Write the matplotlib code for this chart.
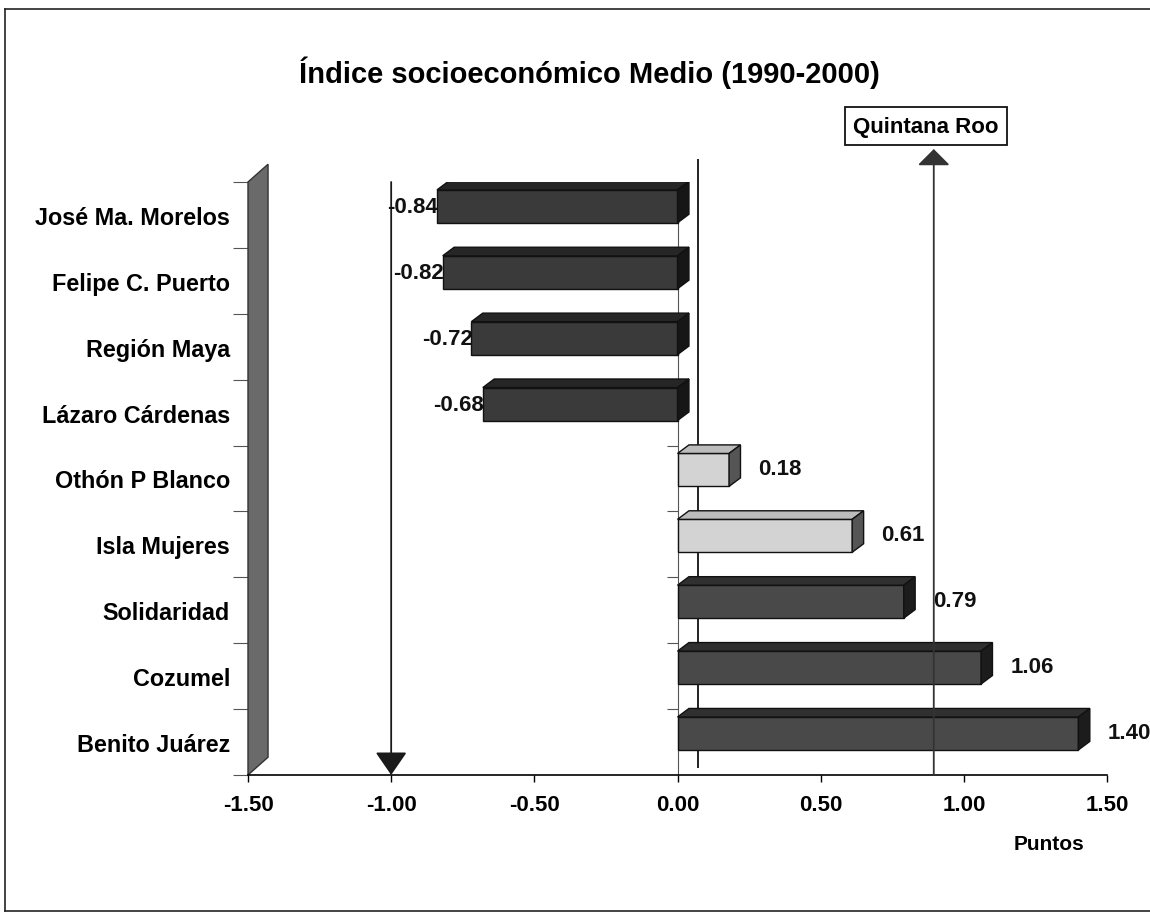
import matplotlib
matplotlib.use("Agg")
import matplotlib.pyplot as plt
import numpy as np
from matplotlib.patches import Polygon
from matplotlib.lines import Line2D

# data
municipios = ["José Ma. Morelos", "Felipe C. Puerto", "Región Maya", "Lázaro Cárdenas",
              "Othón P Blanco", "Isla Mujeres", "Solidaridad", "Cozumel", "Benito Juárez"]
indice = [-0.84, -0.82, -0.72, -0.68, 0.18, 0.61, 0.79, 1.06, 1.40]
tono = ["neg", "neg", "neg", "neg", "light", "light", "dark", "dark", "dark"]
quintana_roo = 0.895
ref_linea = -1.00
x_ticks = [-1.50, -1.00, -0.50, 0.00, 0.50, 1.00, 1.50]

# front, top, side colours
COLORS = {
    "neg":   ("#3a3a3a", "#262626", "#161616"),
    "dark":  ("#494949", "#303030", "#1c1c1c"),
    "light": ("#d3d3d3", "#bcbcbc", "#555555"),
}

plt.rcParams["font.family"] = ["Liberation Sans", "DejaVu Sans"]
plt.rcParams["font.weight"] = "bold"

fig = plt.figure(figsize=(11.5, 9.2), dpi=100)
ax = fig.add_axes([248 / 1150, 144 / 920, 859 / 1150, 593 / 920])
ax.set_xlim(-1.5, 1.5)
ax.set_ylim(len(municipios) - 0.5, -0.5)

DX, DY = 0.04, 0.13   # 3D depth
H = 0.50              # front face height
SHIFT = 0.13          # front face sits a bit above slot centre

for i, (v, t) in enumerate(zip(indice, tono)):
    front, top, side = COLORS[t]
    x0, x1 = min(0, v), max(0, v)
    yc = i - SHIFT
    yt, yb = yc - H / 2, yc + H / 2
    ax.add_patch(Polygon([(x0, yb), (x1, yb), (x1, yt), (x0, yt)], closed=True,
                         facecolor=front, edgecolor="#111", lw=1.0, zorder=3))
    ax.add_patch(Polygon([(x0, yt), (x0 + DX, yt - DY), (x1 + DX, yt - DY), (x1, yt)],
                         closed=True, facecolor=top, edgecolor="#111", lw=1.0, zorder=3))
    ax.add_patch(Polygon([(x1, yb), (x1 + DX, yb - DY), (x1 + DX, yt - DY), (x1, yt)],
                         closed=True, facecolor=side, edgecolor="#111", lw=1.0, zorder=3))
    if v < 0:
        ax.annotate(f"{v:.2f}", (v, yc), xytext=(1, 0), textcoords="offset points",
                    ha="right", va="center", fontsize=16, fontweight="bold", color="#111",
                    zorder=4)
    else:
        ax.annotate(f"{v:.2f}", (v, yc), xytext=(21, 1), textcoords="offset points",
                    ha="left", va="center", fontsize=16, fontweight="bold", color="#111",
                    zorder=4)

# left wall
n = len(municipios)
ax.add_patch(Polygon([(-1.5, -0.5), (-1.43, -0.77), (-1.43, n - 0.77), (-1.5, n - 0.5)],
                     closed=True, facecolor="#6a6a6a", edgecolor="#333", lw=1.0,
                     clip_on=False, zorder=2))

# category axis at zero and back-wall line
ax.vlines(0, -0.5, n - 0.5, color="#555", lw=0.8, zorder=1)
ax.hlines(np.arange(n + 1) - 0.5, -0.035, 0, color="#555", lw=0.8, zorder=1)
ax.vlines(0.07, -0.85, n - 0.6, color="#222", lw=1.4, zorder=1, clip_on=False)

# reference arrows
ax.annotate("", xy=(ref_linea, n - 0.5), xytext=(ref_linea, -0.5),
            arrowprops=dict(arrowstyle="-|>,head_length=0.48,head_width=0.33",
                            mutation_scale=30, color="#1a1a1a", lw=1.3,
                            shrinkA=0, shrinkB=0), annotation_clip=False)
ax.annotate("", xy=(quintana_roo, -1.0), xytext=(quintana_roo, n - 0.5),
            arrowprops=dict(arrowstyle="-|>,head_length=0.36,head_width=0.36",
                            mutation_scale=28, color="#333", lw=1.3,
                            shrinkA=0, shrinkB=0), annotation_clip=False)
fig.text(926 / 1150, 1 - 127 / 920, "Quintana Roo", ha="center", va="center",
         fontsize=16, fontweight="bold",
         bbox=dict(boxstyle="square,pad=0.38", facecolor="white", edgecolor="#111", lw=1.3))

# axes styling
for s in ["top", "right", "left"]:
    ax.spines[s].set_visible(False)
ax.spines["bottom"].set_linewidth(1.2)
ax.set_xticks(x_ticks)
ax.set_xticklabels([f"{t:.2f}" for t in x_ticks], fontsize=16, fontweight="bold")
ax.tick_params(axis="x", direction="out", length=5, width=1, pad=9)
ax.set_yticks(range(n))
ax.set_yticklabels(municipios, fontsize=16.8, fontweight="bold")
ax.set_yticks(np.arange(n + 1) - 0.5, minor=True)
ax.tick_params(axis="y", which="major", length=0, pad=13)
ax.tick_params(axis="y", which="minor", length=11, width=0.8, color="#555")

fig.text(0.5126, 1 - 73 / 920, "Índice socioeconómico Medio (1990-2000)",
         ha="center", va="center", fontsize=21, fontweight="bold")
fig.text(1049 / 1150, 1 - 845 / 920, "Puntos", ha="center", va="center",
         fontsize=15, fontweight="bold")

# outer frame
for xs, ys in [([0.004, 1.0], [0.989, 0.989]), ([0.004, 0.004], [0.009, 0.989]),
               ([0.004, 1.0], [0.009, 0.009])]:
    fig.add_artist(Line2D(xs, ys, color="#222", lw=1.2))

fig.savefig("out.png", dpi=100)
